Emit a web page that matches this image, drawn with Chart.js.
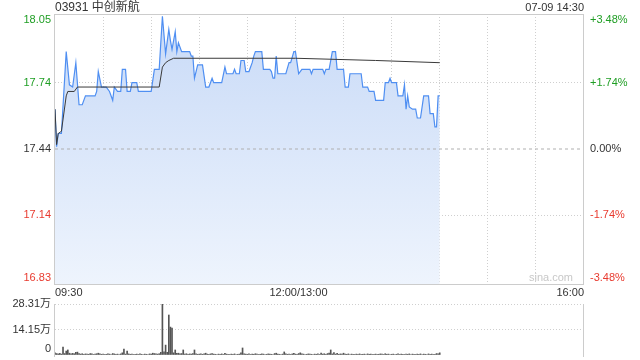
<!DOCTYPE html>
<html><head><meta charset="utf-8">
<script src="https://cdn.jsdelivr.net/npm/chart.js@4"></script>
<style>
html,body{margin:0;padding:0;background:#fff;width:640px;height:360px;overflow:hidden}
#wrap{position:relative;width:640px;height:360px}
canvas{position:absolute;left:0}
#c1{top:0}
#c2{top:295px}
</style></head><body>
<div id="wrap"><canvas id="c1" width="640" height="300"></canvas><canvas id="c2" width="640" height="65"></canvas></div>
<script>
const stockTitle = '03931 中创新航';
const stampText = '07-09 14:30';
const watermark = 'sina.com';
const prevClose = 17.44;
const priceTicks = [16.83, 17.14, 17.44, 17.74, 18.05];
const priceTickLabels = ['16.83', '17.14', '17.44', '17.74', '18.05'];
const pctTickLabels = ['-3.48%', '-1.74%', '0.00%', '+1.74%', '+3.48%'];
const timeTicks = [0, 150, 330];
const timeTickLabels = ['09:30', '12:00/13:00', '16:00'];

// minutes since 09:30 (lunch break removed) and prices
const priceTimes = [0,1,2,4,7,9,11,13,15,17,19,25,26,27,29,32,34,36,37,39,41,42,44,45,47,48,51,52,60,62,65,67,69,71,72,73,75,76,77,79,84,85,86,87,88,89,92,94,96,98,99,104,106,107,111,112,113,115,116,118,119,121,123,124,125,129,130,134,135,136,137,138,139,144,146,147,149,150,152,154,159,160,161,167,168,169,171,173,175,176,180,181,183,184,191,192,195,196,199,200,205,206,208,209,210,213,214,217,218,219,220,221,223,225,226,228,230,233,234,236,237,238,239,240];
const priceValues = [17.62,17.45,17.51,17.51,17.88,17.73,17.72,17.83,17.64,17.64,17.68,17.68,17.70,17.79,17.72,17.72,17.70,17.66,17.72,17.70,17.70,17.80,17.80,17.70,17.70,17.74,17.74,17.70,17.70,17.80,17.80,18.04,17.87,17.98,17.93,17.89,17.97,17.88,17.92,17.88,17.88,17.86,17.86,17.76,17.79,17.82,17.82,17.72,17.72,17.76,17.74,17.74,17.81,17.78,17.78,17.80,17.78,17.78,17.84,17.84,17.79,17.79,17.83,17.86,17.88,17.88,17.80,17.80,17.79,17.76,17.76,17.86,17.78,17.78,17.83,17.83,17.88,17.88,17.78,17.80,17.80,17.78,17.80,17.80,17.78,17.80,17.80,17.88,17.88,17.80,17.80,17.72,17.72,17.78,17.78,17.72,17.72,17.70,17.70,17.66,17.66,17.74,17.74,17.76,17.74,17.74,17.68,17.68,17.73,17.62,17.68,17.63,17.62,17.62,17.58,17.58,17.68,17.68,17.60,17.60,17.54,17.54,17.68,17.68];

const avgTimes = [0,1,2,4,7,8,12,14,60,65,67,69,71,74,150,200,240];
const avgValues = [17.62,17.46,17.51,17.52,17.68,17.70,17.70,17.72,17.72,17.72,17.81,17.83,17.84,17.85,17.85,17.84,17.83];

// volume per minute (万股), minute 0 .. 240
const volumes = [
1.2,0.8,0.6,0.9,0.5,4.4,0.8,2.2,2.8,1.0,
0.6,0.9,0.7,1.5,1.6,0.8,0.5,0.7,0.4,0.6,
0.5,0.4,0.8,0.6,0.3,0.5,0.7,1.0,0.6,0.4,
0.5,0.3,0.4,0.6,0.5,0.3,0.8,0.6,0.4,0.5,
0.3,0.6,1.2,3.3,0.5,2.2,0.6,0.4,0.5,0.3,
0.4,0.5,0.3,0.6,0.4,0.3,0.5,0.4,0.3,0.6,
0.5,1.0,0.8,0.6,0.5,0.7,1.5,28.31,1.8,5.5,
1.5,22.2,15.5,14.9,1.2,2.8,0.9,1.0,0.6,0.8,
2.8,0.5,0.7,0.4,0.6,0.5,0.8,2.8,0.6,0.4,
0.5,0.6,0.4,0.7,1.0,0.5,0.4,0.6,0.8,0.5,
0.4,0.3,0.5,0.4,0.6,0.3,0.9,0.5,0.4,0.3,
0.5,0.4,0.6,0.3,0.4,0.5,1.2,3.9,0.6,0.5,
0.4,0.6,0.3,0.5,0.4,0.7,0.5,0.3,0.4,0.6,
0.5,0.3,0.4,0.6,0.5,0.4,0.3,0.8,1.0,0.5,
0.4,0.3,0.5,1.7,0.6,0.4,0.5,0.3,0.6,0.9,
0.5,0.4,0.8,1.2,0.6,0.5,0.3,0.4,0.6,0.5,
0.4,0.3,0.5,0.4,0.6,0.3,1.0,0.5,0.7,0.4,
0.8,1.1,2.8,0.6,1.3,0.5,0.9,0.4,0.6,0.5,
1.0,0.5,0.4,0.6,0.3,0.5,0.4,0.3,0.5,0.4,
0.6,0.3,0.4,0.5,0.3,0.6,0.4,0.5,0.3,0.4,
0.5,0.3,0.4,0.6,0.5,0.3,0.7,0.4,0.5,0.3,
0.4,0.5,0.3,0.4,0.6,0.3,0.5,0.4,0.3,0.5,
0.4,0.6,0.3,0.5,0.4,0.3,0.5,0.4,0.6,0.3,
0.5,0.4,0.3,0.6,0.4,0.5,0.3,0.4,0.8,0.6,
1.2];
const volTicks = [0, 14.15, 28.31];
const volTickLabels = ['0', '14.15万', '28.31万'];

const FONT = '"Liberation Sans", Arial, "Noto Sans CJK SC", sans-serif';
const GREEN = '#1f9e24', RED = '#e83a2f', DARK = '#333333', BORDER = '#cccccc', GRID = '#cfcfcf';
function colorFor(v){ return v > prevClose + 1e-9 ? GREEN : (v < prevClose - 1e-9 ? RED : DARK); }

const pricePlugin = {
  id: 'priceText',
  afterDraw(chart){
    const {ctx, chartArea: a, scales} = chart;
    const ys = scales.y, xs = scales.x;
    ctx.save();
    ctx.strokeStyle = BORDER; ctx.lineWidth = 1;
    ctx.strokeRect(Math.round(a.left) - 0.5, Math.round(a.top) + 0.5, Math.round(a.right - a.left), Math.round(a.bottom - a.top));
    ctx.font = '11px ' + FONT;
    ctx.textBaseline = 'middle';
    priceTicks.forEach((v, i) => {
      let y = ys.getPixelForValue(v);
      y = Math.min(Math.max(y, a.top + 6), a.bottom - 6);
      ctx.fillStyle = colorFor(v);
      ctx.textAlign = 'right';
      ctx.fillText(priceTickLabels[i], a.left - 4, y);
      ctx.textAlign = 'left';
      ctx.fillText(pctTickLabels[i], a.right + 6, y);
    });
    ctx.fillStyle = DARK;
    timeTicks.forEach((t, i) => {
      const x = xs.getPixelForValue(t);
      ctx.textAlign = i === 0 ? 'left' : (i === timeTicks.length - 1 ? 'right' : 'center');
      ctx.fillText(timeTickLabels[i], i === 1 ? x + 3 : x, a.bottom + 9);
    });
    ctx.textAlign = 'right';
    ctx.fillText(stampText, a.right, 8);
    ctx.font = '12px ' + FONT;
    ctx.textAlign = 'left';
    ctx.fillText(stockTitle, a.left, 8);
    ctx.fillStyle = '#c8c8c8';
    ctx.font = '11px ' + FONT;
    ctx.textAlign = 'right';
    ctx.fillText(watermark, a.right - 11, a.bottom - 6);
    ctx.restore();
  }
};

const volPlugin = {
  id: 'volText',
  afterDraw(chart){
    const {ctx, chartArea: a, scales} = chart;
    const ys = scales.y;
    ctx.save();
    ctx.strokeStyle = BORDER; ctx.lineWidth = 1;
    ctx.beginPath();
    ctx.moveTo(Math.round(a.left) - 0.5, a.top); ctx.lineTo(Math.round(a.left) - 0.5, a.bottom + 2);
    ctx.moveTo(Math.round(a.right) - 0.5, a.top); ctx.lineTo(Math.round(a.right) - 0.5, a.bottom + 2);
    ctx.stroke();
    ctx.font = '11px ' + FONT;
    ctx.textBaseline = 'middle';
    ctx.textAlign = 'right';
    ctx.fillStyle = DARK;
    volTicks.forEach((v, i) => {
      let y = ys.getPixelForValue(v);
      y = Math.min(y, a.bottom - 6);
      ctx.fillText(volTickLabels[i], a.left - 4, y);
    });
    ctx.restore();
  }
};

Chart.defaults.font.family = FONT;

new Chart(document.getElementById('c1'), {
  type: 'line',
  data: {
    datasets: [
      {
        data: priceTimes.map((t, i) => ({x: t, y: priceValues[i]})),
        borderColor: '#4f8ff2',
        borderWidth: 1.2,
        pointRadius: 0,
        tension: 0,
        fill: 'start',
        backgroundColor(c){
          const ch = c.chart, a = ch.chartArea;
          if (!a) return 'rgba(210,225,250,0.7)';
          const g = ch.ctx.createLinearGradient(0, a.top, 0, a.bottom);
          g.addColorStop(0, '#c8daf7');
          g.addColorStop(1, '#eef4fd');
          return g;
        },
        order: 2
      },
      {
        data: avgTimes.map((t, i) => ({x: t, y: avgValues[i]})),
        borderColor: '#3a3a3a',
        borderWidth: 1,
        pointRadius: 0,
        tension: 0,
        fill: false,
        order: 1
      },
      {
        data: [{x: 0, y: prevClose}, {x: 330, y: prevClose}],
        borderColor: '#b0b0b0',
        borderWidth: 1,
        borderDash: [3, 3],
        pointRadius: 0,
        fill: false,
        order: 0
      }
    ]
  },
  options: {
    responsive: false,
    animation: false,
    devicePixelRatio: 1,
    layout: {padding: {left: 55, right: 56, top: 14, bottom: 16}},
    plugins: {legend: {display: false}, tooltip: {enabled: false}},
    scales: {
      x: {
        type: 'linear', min: 0, max: 330,
        ticks: {display: false, stepSize: 30},
        grid: {drawTicks: false, color: (c) => (c.tick && (c.tick.value <= 0 || c.tick.value >= 330)) ? 'rgba(0,0,0,0)' : GRID},
        border: {display: false, dash: [1, 2]}
      },
      y: {
        type: 'linear', min: 16.83, max: 18.05,
        afterBuildTicks(s){ s.ticks = priceTicks.map(v => ({value: v})); },
        ticks: {display: false},
        grid: {drawTicks: false, color: (c) => (c.tick && (Math.abs(c.tick.value - prevClose) < 1e-6 || c.tick.value <= 16.83 || c.tick.value >= 18.05)) ? 'rgba(0,0,0,0)' : GRID},
        border: {display: false, dash: [1, 2]}
      }
    }
  },
  plugins: [pricePlugin]
});

new Chart(document.getElementById('c2'), {
  type: 'bar',
  data: {
    datasets: [{
      data: volumes.map((v, i) => ({x: i, y: v})),
      backgroundColor: '#555555',
      borderWidth: 0,
      barThickness: 1
    }]
  },
  options: {
    responsive: false,
    animation: false,
    devicePixelRatio: 1,
    layout: {padding: {left: 55, right: 56, top: 9, bottom: 5}},
    plugins: {legend: {display: false}, tooltip: {enabled: false}},
    scales: {
      x: {
        type: 'linear', min: 0, max: 330, offset: false,
        ticks: {display: false},
        grid: {display: false, offset: false, drawTicks: false},
        border: {display: false}
      },
      y: {
        type: 'linear', min: 0, max: 28.31,
        afterBuildTicks(s){ s.ticks = volTicks.map(v => ({value: v})); },
        ticks: {display: false},
        grid: {drawTicks: false, color: (c) => (c.tick && c.tick.value <= 0) ? 'rgba(0,0,0,0)' : GRID},
        border: {display: false, dash: [1, 2]}
      }
    }
  },
  plugins: [volPlugin]
});
</script>
</body></html>
